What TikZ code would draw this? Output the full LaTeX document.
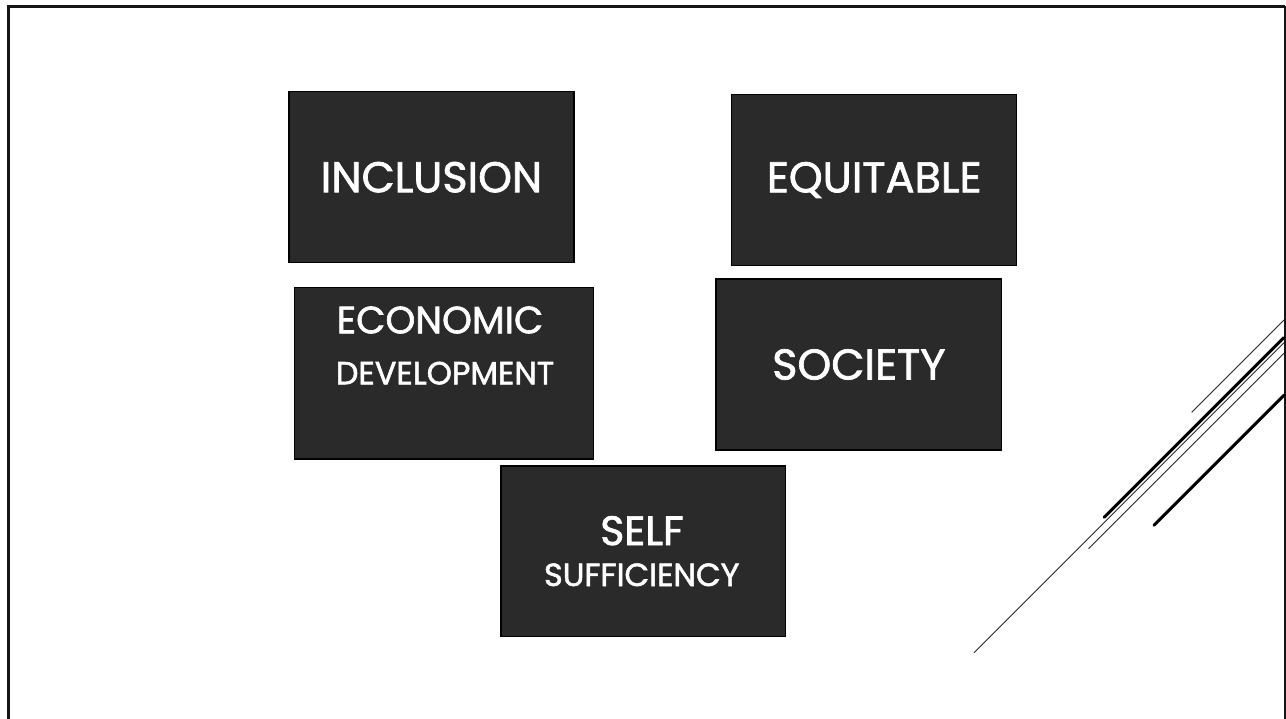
\documentclass[tikz,border=0pt]{standalone}
\usepackage{fontspec}
\setmainfont{Poppins}[FakeBold=1.6]
\definecolor{boxgray}{HTML}{2A2A2A}
\definecolor{framedark}{HTML}{141414}
\begin{document}
\begin{tikzpicture}[x=1pt,y=-1pt,
  box/.style={draw=black, line width=1.4pt, fill=boxgray, inner sep=0pt, text=white},
  big/.style={font=\fontsize{43}{43}\selectfont},
  mid/.style={font=\fontsize{38}{38}\selectfont},
  small/.style={font=\fontsize{32}{32}\selectfont},
  lbl/.style={text=white, inner sep=0pt, anchor=base},
  thinline/.style={draw=black!85, line width=0.9pt},
  thickline/.style={draw=black, line width=3pt, line cap=round}]
\useasboundingbox (0,0) rectangle (1286,719);
\fill[white] (0,0) rectangle (1286,719);
% frame
\draw[framedark, line width=2.6pt] (8.5,719) -- (8.5,6.5) -- (1285,6.5);
\draw[framedark, line width=1.4pt] (1285,6.5) -- (1285,719);
% boxes
\node[box, big, minimum width=285pt, minimum height=171pt] (incl) at (431.5,177.2) {INCLUSION};
\node[box, big, minimum width=285pt, minimum height=171pt] (equi) at (874.2,180) {EQUITABLE};
\node[box, minimum width=299pt, minimum height=171.7pt] (econ) at (443.8,373.2) {};
\node[box, big, minimum width=285.7pt, minimum height=171pt] (soc) at (858.85,364.5) {SOCIETY};
\node[box, minimum width=284.7pt, minimum height=170.7pt] (self) at (643.35,551.35) {};
% two-line labels
\node[lbl, mid] (econA) at (440,333.3) {ECONOMIC};
\node[lbl, small] (econB) at (445,384.3) {DEVELOPMENT};
\node[lbl, font=\fontsize{41}{41}\selectfont] (selfA) at (642,545) {SELF};
\node[lbl, small] (selfB) at (641.7,586) {SUFFICIENCY};
% diagonal lines
\draw[thinline] (1191.7,412.3) -- (1284,320);
\draw[thickline] (1104.3,517.3) -- (1284,337.6);
\draw[thinline] (974,652.7) -- (1284,342.7);
\draw[thinline] (1088.5,548.7) -- (1284,353.2);
\draw[thickline] (1154,525.3) -- (1284,395.3);
\end{tikzpicture}
\end{document}
